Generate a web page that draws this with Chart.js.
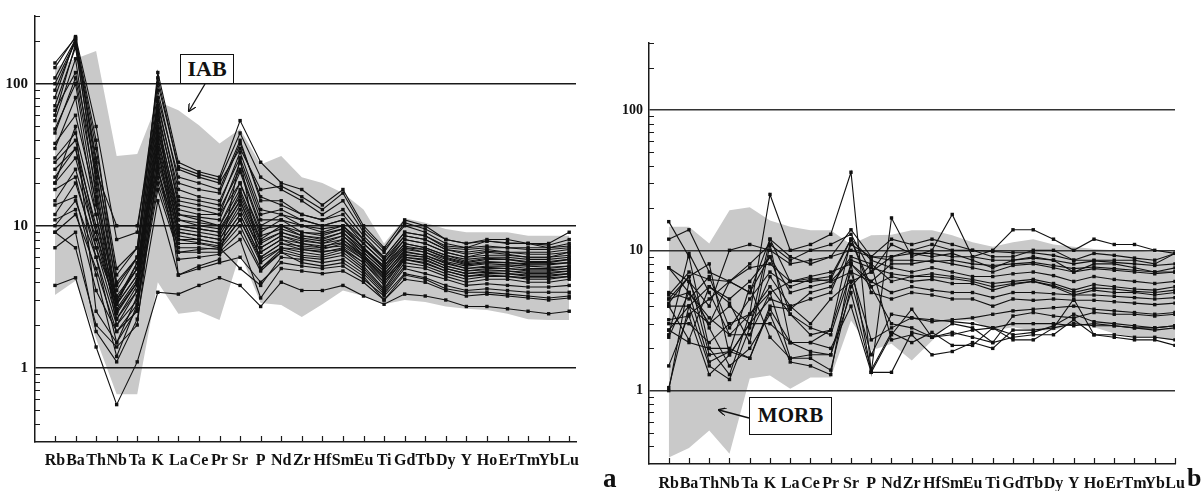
<!DOCTYPE html>
<html>
<head>
<meta charset="utf-8">
<script src="https://cdn.jsdelivr.net/npm/chart.js@4.4.1/dist/chart.umd.min.js"></script>
<style>
  html, body { margin:0; padding:0; background:#fff; }
  body { width:1204px; height:491px; position:relative; overflow:hidden; font-family:"Liberation Serif", "DejaVu Serif", serif; }
  canvas { position:absolute; top:0; }
  #cA { left:0; }
  #cB { left:600px; }
  .box { position:absolute; background:#fff; border:1.5px solid #111; font-weight:bold; color:#111; text-align:center; box-sizing:border-box; }
  .lbl { position:absolute; font-weight:bold; color:#111; line-height:1; }
  svg { position:absolute; left:0; top:0; }
</style>
</head>
<body>
<canvas id="cA" width="600" height="491"></canvas>
<canvas id="cB" width="604" height="491"></canvas>
<svg width="1204" height="491">
  <defs>
    <marker id="ah" markerWidth="8" markerHeight="8" refX="7" refY="4" orient="auto" markerUnits="userSpaceOnUse">
      <path d="M0,0 L8,4 L0,8" fill="none" stroke="#111" stroke-width="1.3"/>
    </marker>
  </defs>
  <line x1="205" y1="84" x2="189" y2="111" stroke="#111" stroke-width="1.3" marker-end="url(#ah)"/>
  <line x1="749" y1="418" x2="719" y2="410" stroke="#111" stroke-width="1.3" marker-end="url(#ah)"/>
</svg>
<div class="box" style="left:180px;top:54px;width:54px;height:30px;font-size:22px;line-height:27px;">IAB</div>
<div class="box" style="left:749px;top:397px;width:83px;height:38px;font-size:21px;line-height:35px;">MORB</div>
<div class="lbl" style="left:603px;top:465px;font-size:27px;">a</div>
<div class="lbl" style="left:1187px;top:465px;font-size:26px;">b</div>
<script>
// ---------- categories and ticks ----------
const categories = ['Rb','Ba','Th','Nb','Ta','K','La','Ce','Pr','Sr','P','Nd','Zr','Hf','Sm','Eu','Ti','Gd','Tb','Dy','Y','Ho','Er','Tm','Yb','Lu'];
const yTickLabels = [1, 10, 100];
const minorTicks = [0.4,0.5,0.6,0.7,0.8,0.9,2,3,4,5,6,7,8,9,20,30,40,50,60,70,80,90,200,300];

// ---------- field envelopes ----------
const iabUpper = [130,150,170,31,32,75,65,51,38,48,27,31,22,20,17,13,7.5,11.3,10.5,9.5,9,9,9,8.5,8.5,8.5];
const iabLower = [3.25,4.1,1.6,0.65,0.65,4.0,2.4,2.5,2.17,6.4,2.86,2.77,2.28,2.8,3.5,3.2,2.8,3.0,2.9,2.7,2.6,2.55,2.4,2.2,2.17,2.17];
const morbUpper = [14.7,14.7,11.2,19.3,20.3,16.3,14.7,13.9,13.9,11,12.8,12.9,13.9,13.9,12.8,11.4,10.6,11.4,12,11,10.6,10.2,10,10,9.7,9.7];
const morbLower = [0.334,0.39,0.52,0.355,1.22,1.28,1.03,1.24,1.24,3.16,1.93,2.16,1.64,2.27,3.16,3.16,2.68,2.83,2.68,2.68,3.0,2.83,2.55,2.4,2.4,2.27];

// ---------- panel a samples ----------
const a01 = [140,210,40,4,6,120,28,24,22,55,28,20,18,14,18,10,7,11,10,8,7.5,8,8,7.5,7.5,9];
const a02 = [110,205,35,5,7,110,25,22,20,35,18,19,16,13,17,9.5,6.8,10,9,7.5,7,7.8,7.6,7.5,7,7.5];
const a03 = [100,200,30,3.5,6,80,22,20,18,40,15,15,12,11,12,8,6,9,8.5,7,6.8,7,7,6.8,6.8,7];
const a04 = [80,210,25,3,5,70,18,16,15,30,12,13,11,10,11,7.5,5.5,8.5,8,6.8,6.5,6.8,6.5,6.5,6.5,6.8];
const a05 = [60,190,20,2.8,4.5,60,15,14,13,25,10,12,10,9,10,7,5.2,8,7.5,6.5,6,6.5,6.3,6,6,6.5];
const a06 = [45,110,18,2.5,4,50,13,12,12,20,9,11,9,8.5,9.5,7,5,7.5,7,6.2,5.8,6,6,5.8,5.8,6];
const a07 = [38,60,15,2.2,3.8,45,12,11,10,18,8,10,8.5,8,9,6.5,4.8,7,6.8,6,5.5,5.8,5.8,5.5,5.5,5.8];
const a08 = [30,45,12,2,3.5,40,11,10,9.5,16,7.5,9,8,7.5,8.5,6.2,4.5,6.8,6.5,5.8,5.3,5.5,5.5,5.3,5.3,5.5];
const a09 = [25,35,10,3,5,35,10,9.5,9,15,7,8.5,7.5,7,8,6,4.3,6.5,6.2,5.5,5,5.2,5.2,5,5,5.2];
const a10 = [20,30,9,2.8,4.5,30,9,8.5,8,14,6.5,8,7,6.8,7.5,5.8,4,6.2,6,5.2,4.8,5,5,4.8,4.8,5];
const a11 = [15,25,8,2.5,4,25,8,8,7.5,12,6,7.5,6.8,6.5,7,5.5,3.8,6,5.8,5,4.6,4.8,4.8,4.6,4.6,4.8];
const a12 = [12,20,7,2.2,3.5,22,7.5,7.5,7,11,5.5,7,6.5,6.2,6.8,5.2,3.6,5.8,5.5,4.8,4.4,4.6,4.6,4.4,4.4,4.6];
const a13 = [10,15,6,2,3,20,7,7,6.8,10,5,6.8,6.2,6,6.5,5,3.5,5.5,5.2,4.6,4.2,4.4,4.4,4.2,4.2,4.4];
const a14 = [9,12,5,1.8,2.8,18,6.5,6.5,6.5,9,4.8,6.5,6,5.8,6.2,4.8,3.4,5.2,5,4.4,4,4.2,4.2,4,4,4.2];
const a15 = [3.8,4.3,1.4,0.55,1.1,3.4,3.3,3.8,4.3,3.8,2.7,4,3.5,3.5,3.8,3.2,2.8,3.3,3.2,3,2.7,2.7,2.6,2.5,2.4,2.5];
const a16 = [130,215,50,8,9,100,26,23,21,45,22,18,15,12,15,9,6.5,10.5,9.5,8,7.5,7.8,7.5,7.5,7.3,8];
const a17 = [90,200,28,4.5,7,90,20,18,17,38,16,14,12,11,13,8.5,6,9,8.5,7.2,7,7.2,7,7,7,7.2];
const a18 = [70,180,22,3.8,6,75,16,15,14,33,13,12,11,10,11,8,5.8,8.5,8,6.8,6.3,6.6,6.5,6.3,6.3,6.5];
const a19 = [55,150,16,3.2,5,65,14,13,12,28,11,11,10,9.5,10,7.5,5.5,8,7.5,6.5,6,6.2,6.2,6,6,6.2];
const a20 = [35,80,12,2.6,4.2,55,12,11.5,11,24,9.5,10,9,8.8,9.5,7,5.2,7.5,7,6.2,5.6,5.9,5.8,5.6,5.6,5.8];
const a21 = [28,40,9,2.4,4,48,11,10.5,10,20,8.5,9.5,8.5,8.2,9,6.8,5,7.2,6.8,5.9,5.4,5.6,5.5,5.4,5.4,5.5];
const a22 = [18,22,6,1.5,3.2,42,10,9.5,9,17,7.8,9,8.2,7.8,8.5,6.5,4.8,7,6.5,5.6,5.2,5.4,5.3,5.2,5.1,5.2];
const a23 = [14,16,4.5,1.2,2.8,38,9.5,9,8.5,15,7,8.5,7.8,7.5,8,6.2,4.6,6.6,6.2,5.4,5,5.1,5,4.9,4.9,5];
const a24 = [11,13,3.5,1.8,2.5,33,9,8.5,8,13,6.5,8,7.5,7.2,7.6,6,4.4,6.3,6,5.2,4.8,4.9,4.8,4.7,4.7,4.8];
const a25 = [9,7,2,1.4,2,28,8.5,8,7.5,12,6,7.5,7.2,7,7.2,5.8,4.2,6,5.7,5,4.6,4.7,4.6,4.5,4.5,4.6];
const a26 = [20,50,2.5,1.5,2.6,24,8,7.6,7.2,11,5.8,7,6.8,6.6,6.8,5.5,4,5.8,5.4,4.8,4.4,4.5,4.4,4.3,4.3,4.4];
const a27 = [48,100,14,3,5.5,35,6.5,6.8,7,5,3.8,6,5.8,5.5,5.8,4.6,3.3,5,4.6,4.2,3.8,3.9,3.8,3.7,3.7,3.8];
const a28 = [7,9,1.8,1.1,2.2,15,4.5,5,5.5,6,4,5.5,5.2,5,5.2,4.2,3.2,4.6,4.3,3.8,3.5,3.6,3.5,3.4,3.4,3.4];
const a29 = [22,35,7,2.8,5.5,26,5.8,6,6.3,8,3.1,5,4.8,4.6,4.8,4,3,4.2,4,3.5,3.2,3.3,3.2,3.1,3,3.1];
const a30 = [65,120,24,10,10,70,4.5,5.2,5.8,30,5,6.5,5.5,5.2,5.5,4.4,3,4.5,4.2,3.6,3.4,3.4,3.3,3.2,3.1,3.2];

// ---------- panel b samples ----------
const b01 = [16,9,2,1.3,3.5,25,10,11,13,36,1.35,17,9,10,18,9,10,14,14,12,10,12,11,11,10,9.5];
const b02 = [12,14,7,6,5,12,9,8,9,14,9,12,11,12,11,10,9,9,10,10,8.5,9.5,9.2,8.8,8.5,9.5];
const b03 = [7.5,6,4,10,11,10,8,8.5,9,10,9,9,10,11,10,10,9.8,9.6,9.6,9.2,8.5,8.5,8.5,8.5,8,9.5];
const b04 = [7.5,5,3,6,7.5,8,6,6.5,7,8,6,8,8,8.5,8,7.5,7,7.8,8,7.5,7,7.4,7.2,7,6.8,7];
const b05 = [5,4.5,6.5,2.8,4.5,7,5.5,6.2,6.5,12,8.5,7.5,7,7.5,7,6.5,6.5,6.8,7,6.6,6,6.5,6.2,6,5.8,6];
const b06 = [4.5,6.5,8,1.8,3,4.5,4,3,4.5,6,7,9,9.5,9,9.5,8.5,7.5,8.5,9,8.5,7,8,8,7.5,7,7.5];
const b07 = [4.2,6.5,1.8,1.9,1.7,4,3.8,5,5.5,9,8,6,6.5,6.8,6.5,6.2,5.8,6,6.2,5.8,5.2,5.7,5.5,5.3,5.2,5.5];
const b08 = [4,4,1.5,1.2,2.8,12,6,6,6.2,12,5.5,6.5,6,6.2,5.8,5.8,5.2,5.7,6,5.5,4.8,5.2,5,5,4.8,5];
const b09 = [3.2,3.4,1.3,1.8,3,3,2.2,2.2,2,4,1.35,1.35,2.6,2.4,2.5,2.7,2.8,2.5,2.6,2.9,3.5,3.1,3,2.9,2.8,2.9];
const b10 = [2.7,2.2,2,2,1.7,3.8,2.2,1.9,1.8,5,1.4,2.6,2.2,2.6,2.1,2.1,2.8,2.3,2.3,2.8,4.5,2.5,2.5,2.4,2.4,2.3];
const b11 = [2.4,5,3.3,2.5,3.5,5,1.7,1.7,1.4,5.5,8,2.3,2.5,1.8,1.9,2.2,2,2.7,2.7,2.8,3,2.9,2.9,2.8,2.7,2.8];
const b12 = [1.05,4,5.5,4.5,6,9,3.5,2.5,2.7,12,5,4.5,5,4.8,4.5,4.5,4,4.5,4.4,4.5,4.4,4.4,4.3,4.2,4.1,4.2];
const b13 = [1.0,6,2.8,1.5,2,3.5,1.6,1.5,1.3,8,5.5,3,2.8,2.4,2.6,2.4,2.2,2.4,2.5,2.5,3.2,2.5,2.4,2.3,2.3,2.1];
const b14 = [1.5,3.5,4.5,6,8,11,8.5,10,11,13,7,11,9.5,9.5,9,9,8.5,8.5,8.8,8.5,8,8.4,8.2,8,7.8,8];
const b15 = [2.5,9.5,5,2.5,2.5,5,6,6.3,6,8.5,7.5,6.8,6.5,6.5,6.3,6,5.5,5.8,6,5.6,5,5.4,5.3,5.1,5,5.2];
const b16 = [3,3,2.2,3,3.5,5.5,3.5,2.8,2.5,7,2.3,2.8,3.3,3.1,3.2,3.3,3.5,3.7,3.8,3.9,4,3.8,3.7,3.6,3.5,3.6];
const b17 = [4.8,7,6.2,6,5,9,5,5.5,6,7,6,5,5.5,5.2,5,5,4.6,5,5,4.9,4.8,4.8,4.7,4.6,4.5,4.6];
const b18 = [2.7,4,3,4,3,6.5,4,4.5,5,11,9,8.5,8.5,8.3,8.5,8,7.8,8,8.2,7.8,7.4,7.6,7.4,7.2,7,7];
const b19 = [4,2.3,5.5,4.2,2.2,11,2.2,2.2,2.7,8,1.35,2.5,3.8,2.4,3,2.8,2.2,3.4,3.6,3.4,3.3,3.6,3.5,3.5,3.4,3.5];
const b20 = [4.5,5,1.6,1.9,5.5,2.4,1.7,1.8,1.8,6,1.8,3.5,3.3,3.2,3.1,3.0,2.8,3.0,3,3,2.9,3,2.9,2.8,2.8,2.9];

const samplesA = [a01,a02,a03,a04,a05,a06,a07,a08,a09,a10,a11,a12,a13,a14,a15,a16,a17,a18,a19,a20,a21,a22,a23,a24,a25,a26,a27,a28,a29,a30];
const samplesB = [b01,b02,b03,b04,b05,b06,b07,b08,b09,b10,b11,b12,b13,b14,b15,b16,b17,b18,b19,b20];

// ---------- helpers ----------
const toPts = arr => arr.map((v, i) => ({ x: i, y: v }));
const FONT = "'Liberation Serif', 'DejaVu Serif', serif";

const inwardTicks = {
  id: 'inwardTicks',
  afterDatasetsDraw(chart) {
    const { ctx, chartArea: a, scales: { x, y } } = chart;
    ctx.save();
    ctx.strokeStyle = '#1a1a1a';
    ctx.lineWidth = 1.2;
    ctx.beginPath();
    categories.forEach((c, i) => {
      const px = Math.round(x.getPixelForValue(i)) + 0.5;
      ctx.moveTo(px, a.bottom);
      ctx.lineTo(px, a.bottom - 6);
    });
    minorTicks.forEach(v => {
      const py = Math.round(y.getPixelForValue(v)) + 0.5;
      ctx.moveTo(a.left, py);
      ctx.lineTo(a.left + 5, py);
    });
    ctx.stroke();
    ctx.restore();
  }
};

function makeChart(id, samples, upper, lower, g) {
  const datasets = [
    { data: toPts(upper), fill: '+1', backgroundColor: '#c9c9c9', borderColor: 'rgba(0,0,0,0)', pointRadius: 0, order: 10 },
    { data: toPts(lower), fill: false, borderColor: 'rgba(0,0,0,0)', pointRadius: 0, order: 10 }
  ];
  samples.forEach(s => datasets.push({
    data: toPts(s), fill: false, borderColor: '#111', borderWidth: 1.1,
    pointRadius: 2.4, pointStyle: 'rect', pointBackgroundColor: '#111', pointBorderWidth: 0, tension: 0, order: 0
  }));
  return new Chart(document.getElementById(id), {
    type: 'line',
    data: { datasets },
    plugins: [inwardTicks],
    options: {
      responsive: false,
      animation: false,
      events: [],
      devicePixelRatio: 1,
      layout: { padding: { left: 0, top: g.top, right: g.right, bottom: 0 } },
      plugins: { legend: { display: false }, tooltip: { enabled: false }, filler: { drawTime: 'beforeDraw' } },
      scales: {
        x: {
          type: 'linear', min: g.xmin, max: g.xmax, bounds: 'data',
          grid: { display: false, drawTicks: false },
          border: { display: true, color: '#1a1a1a', width: 1.5 },
          afterBuildTicks: s => { s.ticks = categories.map((c, i) => ({ value: i })); },
          afterFit: s => { s.height = g.xh; },
          ticks: {
            autoSkip: false, maxRotation: 0, minRotation: 0, padding: g.xpad,
            color: '#111', font: { family: FONT, size: 16, weight: 'bold' },
            callback: v => categories[v]
          }
        },
        y: {
          type: 'logarithmic', min: 0.3, max: 300,
          grid: { display: true, drawTicks: false, color: g.gridColor, lineWidth: 1.4 },
          border: { display: true, color: '#1a1a1a', width: 1.5 },
          afterBuildTicks: s => { s.ticks = yTickLabels.map(v => ({ value: v, major: true })); },
          afterFit: s => { s.width = g.yw; },
          ticks: {
            padding: g.ypad, color: '#111', font: { family: FONT, size: g.yfs, weight: 'bold' },
            callback: v => String(v)
          }
        }
      }
    }
  });
}

makeChart('cA', samplesA, iabUpper, iabLower,
  { top: 15, right: 24, xmin: -0.97, xmax: 25.33, xh: 49, xpad: 9, yw: 35, ypad: 7, yfs: 15, gridColor: '#1a1a1a' });
makeChart('cB', samplesB, morbUpper, morbLower,
  { top: 43, right: 29, xmin: -0.975, xmax: 25.0, xh: 27, xpad: 10, yw: 49, ypad: 6, yfs: 14, gridColor: '#333' });
</script>
</body>
</html>
